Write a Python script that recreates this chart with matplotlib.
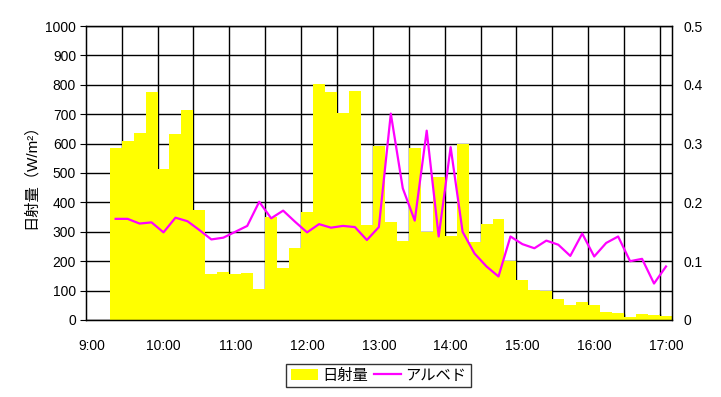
import matplotlib
matplotlib.use("Agg")
import matplotlib.pyplot as plt
from matplotlib.patches import Patch
from matplotlib.lines import Line2D

plt.rcParams['font.family'] = ['Liberation Sans', 'Noto Sans CJK JP', 'DejaVu Sans']

# Time categories every 10 minutes, 9:00 .. 17:00
times = [f"{9 + m // 60}:{m % 60:02d}" for m in range(0, 8 * 60 + 1, 10)]
data_start = "9:20"

irradiance = [586, 609, 636, 777, 512, 634, 714, 374, 156, 164, 157, 160, 104, 349,
              177, 246, 367, 803, 777, 705, 779, 323, 593, 333, 270, 585, 298, 487,
              287, 599, 266, 327, 343, 201, 136, 102, 100, 71, 51, 62, 50, 28, 23,
              11, 20, 17, 15]
albedo = [0.172, 0.172, 0.164, 0.166, 0.149, 0.174, 0.168, 0.153, 0.137, 0.140,
          0.150, 0.160, 0.201, 0.173, 0.186, 0.167, 0.149, 0.163, 0.157, 0.160,
          0.158, 0.136, 0.158, 0.351, 0.224, 0.169, 0.322, 0.142, 0.294, 0.150,
          0.113, 0.091, 0.074, 0.142, 0.129, 0.122, 0.135, 0.128, 0.109, 0.147,
          0.108, 0.131, 0.142, 0.100, 0.104, 0.062, 0.091]
hour_labels = ["9:00", "10:00", "11:00", "12:00", "13:00", "14:00", "15:00", "16:00", "17:00"]

start = times.index(data_start)
xs = list(range(start, start + len(irradiance)))
n_cat = len(times)

fig = plt.figure(figsize=(7.21, 3.97), dpi=100)
ax = fig.add_axes([0.1189, 0.194, 0.932 - 0.1189, 0.9345 - 0.194])
ax.set_axisbelow(True)

ax.bar(xs, irradiance, width=1.0, color='#FFFF00', edgecolor='none', zorder=2)
ax.set_xlim(-0.5, n_cat - 0.5)
ax.set_ylim(0, 1000)
ax.set_yticks(range(0, 1001, 100))
ax.grid(axis='y', color='black', linewidth=1.0)

# category axis: ticks/gridlines every 3 categories, labels every 6
minor = [k + 0.5 for k in range(2, n_cat - 1, 3)]
ax.set_xticks(minor, minor=True)
label_pos = [times.index(h) for h in hour_labels]
ax.set_xticks(label_pos)
ax.set_xticklabels(hour_labels)
ax.tick_params(axis='x', which='major', length=0, pad=14, labelsize=10)
ax.tick_params(axis='x', which='minor', direction='in', length=4, width=1, color='black')
ax.grid(axis='x', which='minor', color='black', linewidth=1.0)
ax.tick_params(axis='y', direction='out', length=4, labelsize=10, pad=3)
for s in ax.spines.values():
    s.set_linewidth(1.0)
ax.set_ylabel('日射量（W/m²）', fontsize=11, labelpad=5)

ax2 = ax.twinx()
ax2.plot(xs, albedo, color='#FF00FF', linewidth=1.6, zorder=3)
ax2.set_ylim(0, 0.5)
ax2.set_yticks([0, 0.1, 0.2, 0.3, 0.4, 0.5])
ax2.set_yticklabels(['0', '0.1', '0.2', '0.3', '0.4', '0.5'])
ax2.tick_params(axis='y', length=0, labelsize=10, pad=8)

handles = [Patch(facecolor='#FFFF00', edgecolor='none', label='日射量'),
           Line2D([0], [0], color='#FF00FF', linewidth=1.6, label='アルベド')]
leg = fig.legend(handles=handles, loc='center', bbox_to_anchor=(0.525, 0.0534),
                 ncol=2, frameon=True, fancybox=False, edgecolor='black',
                 fontsize=11, handlelength=1.8, handletextpad=0.25, columnspacing=0.4,
                 borderpad=0.3)
leg.get_frame().set_linewidth(1.0)

fig.savefig('out.png', dpi=100)
